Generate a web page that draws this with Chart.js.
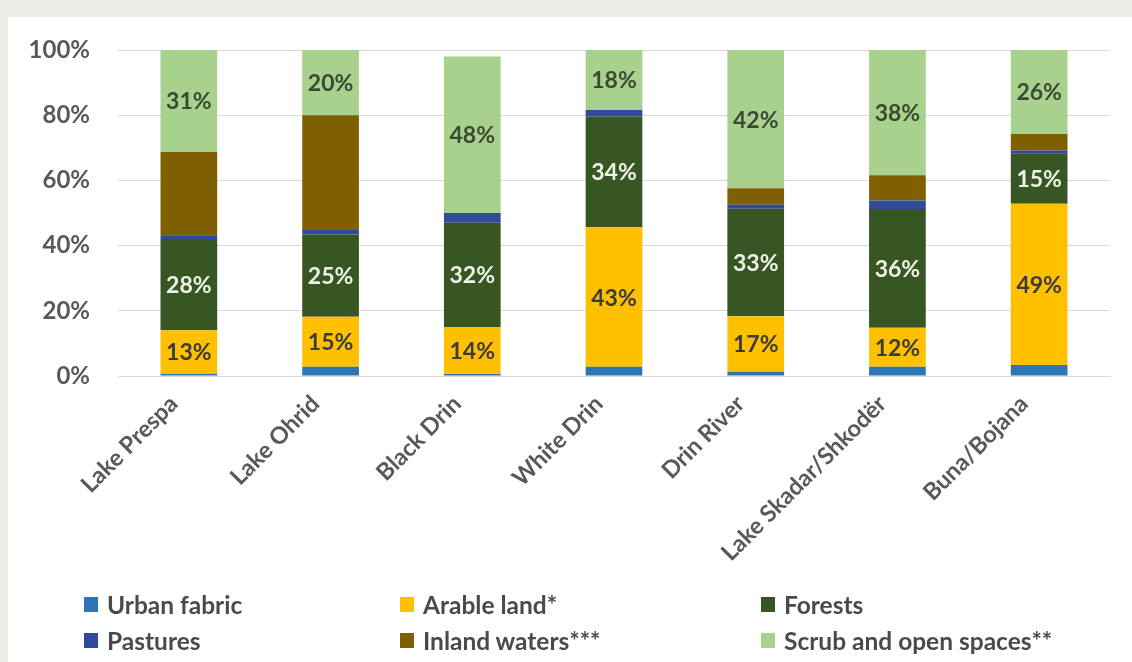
<!DOCTYPE html>
<html>
<head>
<meta charset="utf-8">
<script src="https://cdn.jsdelivr.net/npm/chart.js@4"></script>
<style>
  html, body { margin: 0; padding: 0; }
  body { width: 1132px; height: 662px; background: #eaede7; position: relative; overflow: hidden; font-family: Lato, "Open Sans", sans-serif; }
  #panel { position: absolute; left: 8px; top: 17px; right: 0; bottom: 0; background: #fff; }
  #wrap { position: absolute; left: 0; top: 0; width: 1132px; height: 662px; }
  #legend { position: absolute; left: 0; top: 0; width: 1132px; height: 662px; pointer-events: none; }
  .item { position: absolute; display: flex; align-items: center; font-weight: bold; font-size: 24.5px; color: #4a4a4a; white-space: nowrap; }
  .box { width: 14px; height: 15px; margin-right: 9px; }
</style>
</head>
<body>
<div id="panel"></div>
<div id="wrap"><canvas id="landChart"></canvas></div>
<div id="legend"></div>
<script>
const categories = ["Lake Prespa", "Lake Ohrid", "Black Drin", "White Drin", "Drin River", "Lake Skadar/Shkodër", "Buna/Bojana"];

// share of each basin, % (stack order bottom -> top)
const urbanFabric   = [0.7,  2.8,  0.6,  2.8,  1.3,  2.8,  3.4];
const arableLand    = [13.3, 15.4, 14.4, 42.8, 17.0, 12.0, 49.4];
const forests       = [28.0, 25.2, 32.0, 34.0, 33.0, 36.4, 15.4];
const pastures      = [1.2,  1.4,  3.0,  2.0,  1.2,  2.6,  1.0];
const inlandWaters  = [25.5, 35.2, 0.0,  0.0,  5.1,  7.8,  5.0];
const scrubOpen     = [31.3, 20.0, 48.0, 18.4, 42.4, 38.4, 25.8];

const yTicks = [0, 20, 40, 60, 80, 100];

const series = [
    { label: "Urban fabric", data: urbanFabric, color: "#2e75b6" },
    { label: "Arable land*", data: arableLand, color: "#ffc000", labelColor: "#3b3b3b" },
    { label: "Forests", data: forests, color: "#375623", labelColor: "#eef3e8" },
    { label: "Pastures", data: pastures, color: "#2f4b9a" },
    { label: "Inland waters***", data: inlandWaters, color: "#7f6000" },
    { label: "Scrub and open spaces**", data: scrubOpen, color: "#a9d18e", labelColor: "#3a4a32" }
];

// --- SEGMENT LABELS ---
const segLabels = {
    id: 'segLabels',
    afterDatasetsDraw(chart) {
        const ctx = chart.ctx;
        ctx.save();
        ctx.font = "bold 23px Lato";
        ctx.textAlign = "center";
        ctx.textBaseline = "middle";
        chart.data.datasets.forEach((ds, i) => {
            if (!ds.labelColor) return;
            ctx.fillStyle = ds.labelColor;
            chart.getDatasetMeta(i).data.forEach((bar, j) => {
                const p = bar.getProps(['x', 'y', 'base'], true);
                ctx.fillText(Math.round(ds.data[j]) + "%", p.x, (p.y + p.base) / 2 + 1);
            });
        });
        ctx.restore();
    }
};

const ctx = document.getElementById('landChart').getContext('2d');
new Chart(ctx, {
    type: 'bar',
    data: {
        labels: categories,
        datasets: series.map(s => ({
            label: s.label, data: s.data, backgroundColor: s.color, labelColor: s.labelColor,
            categoryPercentage: 1, barPercentage: 0.4, borderWidth: 0
        }))
    },
    options: {
        responsive: true, maintainAspectRatio: false, animation: false,
        layout: { padding: { left: 8, top: 50, right: 22, bottom: 86 } },
        plugins: { legend: { display: false }, tooltip: { enabled: false } },
        scales: {
            x: {
                stacked: true,
                grid: { display: false },
                border: { color: "#d9d9d9" },
                afterFit: s => { s.height = 200; },
                ticks: { color: "#595959", font: { family: "Lato", size: 23.5, weight: "bold" }, maxRotation: 45, minRotation: 45, padding: 6, labelOffset: -15 }
            },
            y: {
                stacked: true, min: 0, max: 100,
                afterFit: s => { s.width = 110; },
                afterBuildTicks: s => { s.ticks = yTicks.map(v => ({ value: v })); },
                grid: { color: "#d9d9d9", drawTicks: false },
                border: { display: false },
                ticks: { color: "#595959", font: { family: "Lato", size: 24, weight: "bold" }, padding: 28, callback: v => v + "%" }
            }
        }
    },
    plugins: [segLabels]
});

// --- LEGEND (3 columns) ---
const legendPos = [[84, 605], [400, 605], [761, 605], [84, 641], [400, 641], [761, 641]];
const legend = document.getElementById('legend');
series.forEach((s, i) => {
    const el = document.createElement('div');
    el.className = 'item';
    el.style.left = legendPos[i][0] + 'px';
    el.style.top = (legendPos[i][1] - 15) + 'px';
    el.innerHTML = `<span class="box" style="background:${s.color}"></span>${s.label}`;
    legend.appendChild(el);
});
</script>
</body>
</html>
